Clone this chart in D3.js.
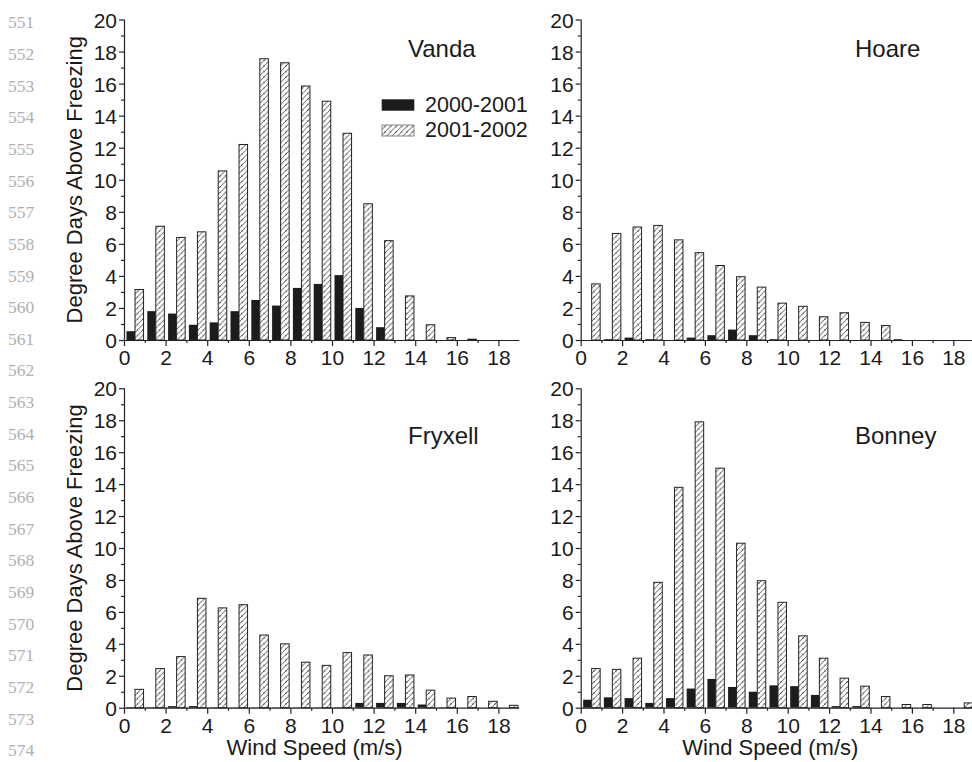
<!DOCTYPE html>
<html>
<head>
<meta charset="utf-8">
<script src="https://cdn.jsdelivr.net/npm/d3@7"></script>
<style>
  body { margin: 0; background: #fff; }
  svg { display: block; }
  text { font-family: "Liberation Sans", Arial, sans-serif; fill: #1a1a1a; }
</style>
</head>
<body>
<div id="chart"></div>
<script>
// wind speed bins 0-1, 1-2, ... 18-19 m/s
var bins = d3.range(0, 19);
var seriesNames = ['2000-2001', '2001-2002'];
var xTicks = [0, 2, 4, 6, 8, 10, 12, 14, 16, 18];
var yTicks = [0, 2, 4, 6, 8, 10, 12, 14, 16, 18, 20];
var lineNumbers = d3.range(551, 575);

var vanda2000 = [0.55, 1.8, 1.65, 0.95, 1.1, 1.8, 2.5, 2.15, 3.25, 3.5, 4.05, 2.0, 0.8, 0, 0, 0, 0, 0, 0];
var vanda2001 = [3.15, 7.1, 6.4, 6.75, 10.55, 12.2, 17.55, 17.3, 15.85, 14.9, 12.9, 8.5, 6.2, 2.75, 0.95, 0.15, 0.05, 0, 0];

var hoare2000 = [0, 0.05, 0.15, 0.05, 0, 0.15, 0.3, 0.65, 0.3, 0.05, 0, 0, 0, 0, 0, 0.05, 0, 0, 0];
var hoare2001 = [3.5, 6.65, 7.05, 7.15, 6.25, 5.45, 4.65, 3.95, 3.3, 2.3, 2.1, 1.45, 1.7, 1.1, 0.9, 0, 0, 0, 0];

var fryxell2000 = [0.04, 0.03, 0.1, 0.1, 0.03, 0.02, 0.02, 0.02, 0.02, 0.02, 0.03, 0.3, 0.3, 0.3, 0.2, 0.03, 0, 0, 0];
var fryxell2001 = [1.15, 2.45, 3.2, 6.85, 6.25, 6.45, 4.55, 4.0, 2.85, 2.65, 3.45, 3.3, 2.0, 2.05, 1.1, 0.6, 0.7, 0.4, 0.15];

var bonney2000 = [0.5, 0.65, 0.6, 0.3, 0.6, 1.2, 1.8, 1.3, 1.0, 1.4, 1.35, 0.8, 0.1, 0.1, 0, 0, 0, 0, 0];
var bonney2001 = [2.45, 2.4, 3.1, 7.85, 13.8, 17.9, 15.0, 10.3, 7.95, 6.6, 4.5, 3.1, 1.85, 1.35, 0.7, 0.2, 0.2, 0, 0.3];

var panels = [
  { name: 'Vanda', a: vanda2000, b: vanda2001, x0: 124, x1: 519.2, y0: 340, y1: 19.5, labelX: 408, labelY: 57, legend: true, yTitle: true, xTitle: false },
  { name: 'Hoare', a: hoare2000, b: hoare2001, x0: 580.7, x1: 974, y0: 340, y1: 19.5, labelX: 855, labelY: 57, legend: false, yTitle: false, xTitle: false },
  { name: 'Fryxell', a: fryxell2000, b: fryxell2001, x0: 124, x1: 519.2, y0: 707.7, y1: 388.3, labelX: 408, labelY: 444, legend: false, yTitle: true, xTitle: true },
  { name: 'Bonney', a: bonney2000, b: bonney2001, x0: 580.7, x1: 974, y0: 707.7, y1: 388.3, labelX: 855, labelY: 444, legend: false, yTitle: false, xTitle: true }
];

var svg = d3.select('#chart').append('svg')
    .attr('width', 972)
    .attr('height', 762);

// hatch pattern for the 2001-2002 bars
var pat = svg.append('defs').append('pattern')
    .attr('id', 'hatch')
    .attr('patternUnits', 'userSpaceOnUse')
    .attr('width', 5.5)
    .attr('height', 5.5);
pat.append('rect').attr('width', 5.5).attr('height', 5.5).attr('fill', '#fff');
pat.append('path')
    .attr('d', 'M-1,1.375 L1.375,-1 M0,5.5 L5.5,0 M4.125,6.5 L6.5,4.125')
    .attr('stroke', '#2a2a2a')
    .attr('stroke-width', 0.8);

// manuscript line numbers down the left margin
svg.append('g').selectAll('text')
    .data(lineNumbers)
  .enter().append('text')
    .attr('x', 8)
    .attr('y', function(d, i) { return 28.3 + 31.65 * i; })
    .style('font-family', '"Liberation Serif", "DejaVu Serif", serif')
    .style('font-size', '17.5px')
    .style('fill', '#b0b0b0')
    .text(function(d) { return d; });

panels.forEach(function(p) {
  var x = d3.scaleLinear().domain([0, 19]).range([p.x0, p.x1]);
  var y = d3.scaleLinear().domain([0, 20]).range([p.y0, p.y1]);
  var g = svg.append('g');

  // black bars
  g.selectAll('rect.a')
      .data(p.a)
    .enter().append('rect')
      .attr('class', 'a')
      .attr('x', function(d, i) { return x(bins[i] + 0.12); })
      .attr('width', x(0.41) - x(0))
      .attr('y', function(d) { return y(d); })
      .attr('height', function(d) { return y(0) - y(d); })
      .attr('fill', '#1c1c1c');

  // hatched bars
  g.selectAll('rect.b')
      .data(p.b)
    .enter().append('rect')
      .attr('class', 'b')
      .attr('x', function(d, i) { return x(bins[i] + 0.53); })
      .attr('width', x(0.41) - x(0))
      .attr('y', function(d) { return y(d); })
      .attr('height', function(d) { return y(0) - y(d); })
      .attr('fill', 'url(#hatch)')
      .attr('stroke', function(d) { return d > 0 ? '#222' : 'none'; })
      .attr('stroke-width', 1);

  // y axis
  var yAxis = g.append('g')
      .attr('transform', 'translate(' + p.x0 + ',0)')
      .call(d3.axisLeft(y).tickValues(yTicks).tickSize(5).tickPadding(2).tickFormat(d3.format('d')));
  g.append('g')
      .attr('transform', 'translate(' + p.x0 + ',0)')
      .call(d3.axisLeft(y).tickValues(d3.range(1, 20, 2)).tickSize(3).tickFormat(''))
      .select('.domain').remove();

  // x axis
  var xAxis = g.append('g')
      .attr('transform', 'translate(0,' + p.y0 + ')')
      .call(d3.axisBottom(x).tickValues(xTicks).tickSize(6).tickPadding(4).tickFormat(d3.format('d')));
  g.append('g')
      .attr('transform', 'translate(0,' + p.y0 + ')')
      .call(d3.axisBottom(x).tickValues(d3.range(1, 19, 2)).tickSize(3).tickFormat(''))
      .select('.domain').remove();

  g.selectAll('.domain').attr('stroke', '#222').attr('stroke-width', 1.2);
  g.selectAll('.tick line').attr('stroke', '#222').attr('stroke-width', 1.2);
  yAxis.selectAll('text').style('font-size', '21px').attr('dy', '0.36em');
  xAxis.selectAll('text').style('font-size', '21px');
  yAxis.select('.domain').attr('d', 'M0.5,' + y(0) + 'V' + y(20));
  xAxis.select('.domain').attr('d', 'M' + x(0) + ',0.5H' + x(19));

  g.append('text')
      .attr('x', p.labelX)
      .attr('y', p.labelY)
      .style('font-size', '24px')
      .text(p.name);

  if (p.yTitle) {
    g.append('text')
        .attr('transform', 'translate(81.5,' + (p.y0 + p.y1) / 2 + ') rotate(-90)')
        .attr('text-anchor', 'middle')
        .style('font-size', '22px')
        .text('Degree Days Above Freezing');
  }
  if (p.xTitle) {
    g.append('text')
        .attr('x', (p.x0 + x(19)) / 2 - 7)
        .attr('y', 755)
        .attr('text-anchor', 'middle')
        .style('font-size', '22px')
        .text('Wind Speed (m/s)');
  }

  if (p.legend) {
    var leg = g.append('g');
    leg.append('rect')
        .attr('x', 381.7).attr('y', 99.3)
        .attr('width', 32.6).attr('height', 11.4)
        .attr('fill', '#1c1c1c');
    leg.append('rect')
        .attr('x', 382).attr('y', 125)
        .attr('width', 32).attr('height', 11)
        .attr('fill', 'url(#hatch)')
        .attr('stroke', '#666').attr('stroke-width', 0.8);
    leg.selectAll('text')
        .data(seriesNames)
      .enter().append('text')
        .attr('x', 425)
        .attr('y', function(d, i) { return 111.7 + i * 25; })
        .style('font-size', '21.5px')
        .text(function(d) { return d; });
  }
});
</script>
</body>
</html>
